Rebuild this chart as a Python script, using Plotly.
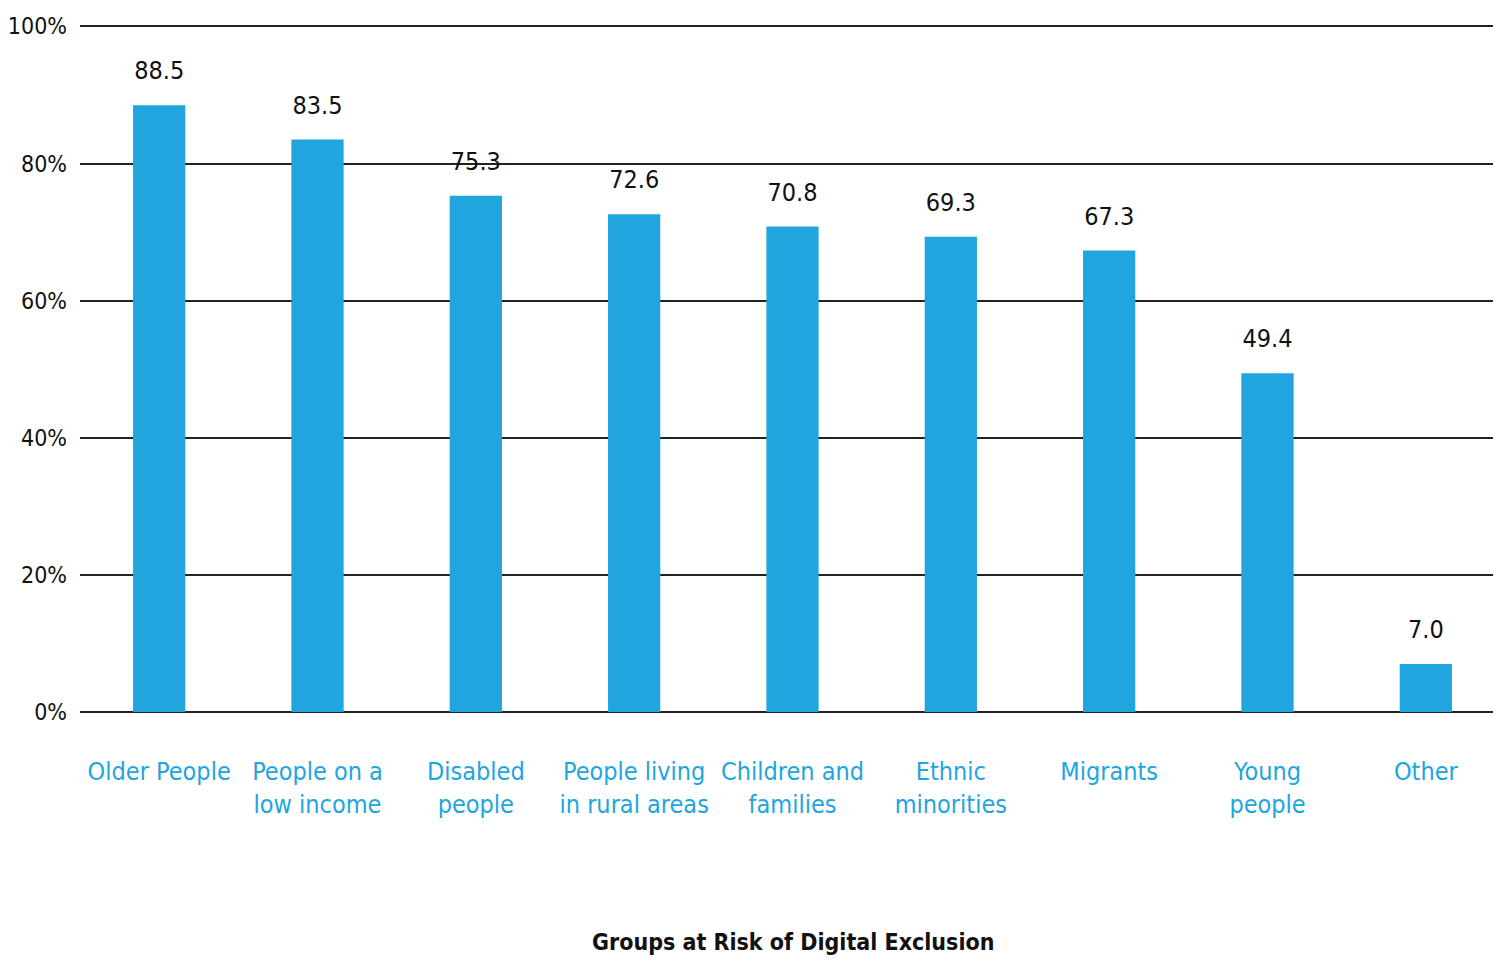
import plotly.graph_objects as go

categories = ["Older People", "People on a<br>low income", "Disabled<br>people", "People living<br>in rural areas",
              "Children and<br>families", "Ethnic<br>minorities", "Migrants", "Young<br>people", "Other"]
values = [88.5, 83.5, 75.3, 72.6, 70.8, 69.3, 67.3, 49.4, 7.0]
y_ticks = [0, 20, 40, 60, 80, 100]
x_title = "Groups at Risk of Digital Exclusion"

FONT = "DejaVu Sans Condensed, Roboto, sans-serif"
BLUE = "#21a5de"

fig = go.Figure()
fig.add_trace(go.Bar(
    x=categories, y=values,
    marker=dict(color=BLUE, line=dict(width=0)),
    hoverinfo="skip",
))
fig.add_trace(go.Scatter(
    x=categories, y=values, mode="markers+text",
    marker=dict(size=30, opacity=0),
    text=[f"{v:.1f}" for v in values],
    textposition="top center",
    textfont=dict(family=FONT, size=25, color="#111111"),
    cliponaxis=False,
))

fig.update_layout(
    width=1501, height=965,
    margin=dict(l=72, r=4, t=17, b=261),
    plot_bgcolor="white", paper_bgcolor="white",
    bargap=0.67,
    showlegend=False,
    xaxis=dict(
        range=[-0.5, len(categories) - 0.5],
        tickfont=dict(family=FONT, size=25, color=BLUE),
        tickangle=0, automargin=False,
        ticks="", showgrid=False, showline=False, zeroline=False,
        ticklabelstandoff=42,
    ),
    yaxis=dict(
        range=[0, 100.2], tickvals=y_ticks, ticktext=[f"{t}%" for t in y_ticks],
        tickfont=dict(family=FONT, size=23, color="#111111"),
        showgrid=True, gridcolor="#222222", gridwidth=2,
        zeroline=True, zerolinecolor="#222222", zerolinewidth=2,
        showline=False, ticks="", ticklabelstandoff=12, automargin=False,
    ),
    annotations=[dict(
        text=f"<b>{x_title}</b>", x=0.5, xref="paper", y=-0.335, yref="paper",
        yanchor="middle", xanchor="center", showarrow=False,
        font=dict(family=FONT, size=23, color="#111111"),
    )],
)

fig.write_html("out.html")
